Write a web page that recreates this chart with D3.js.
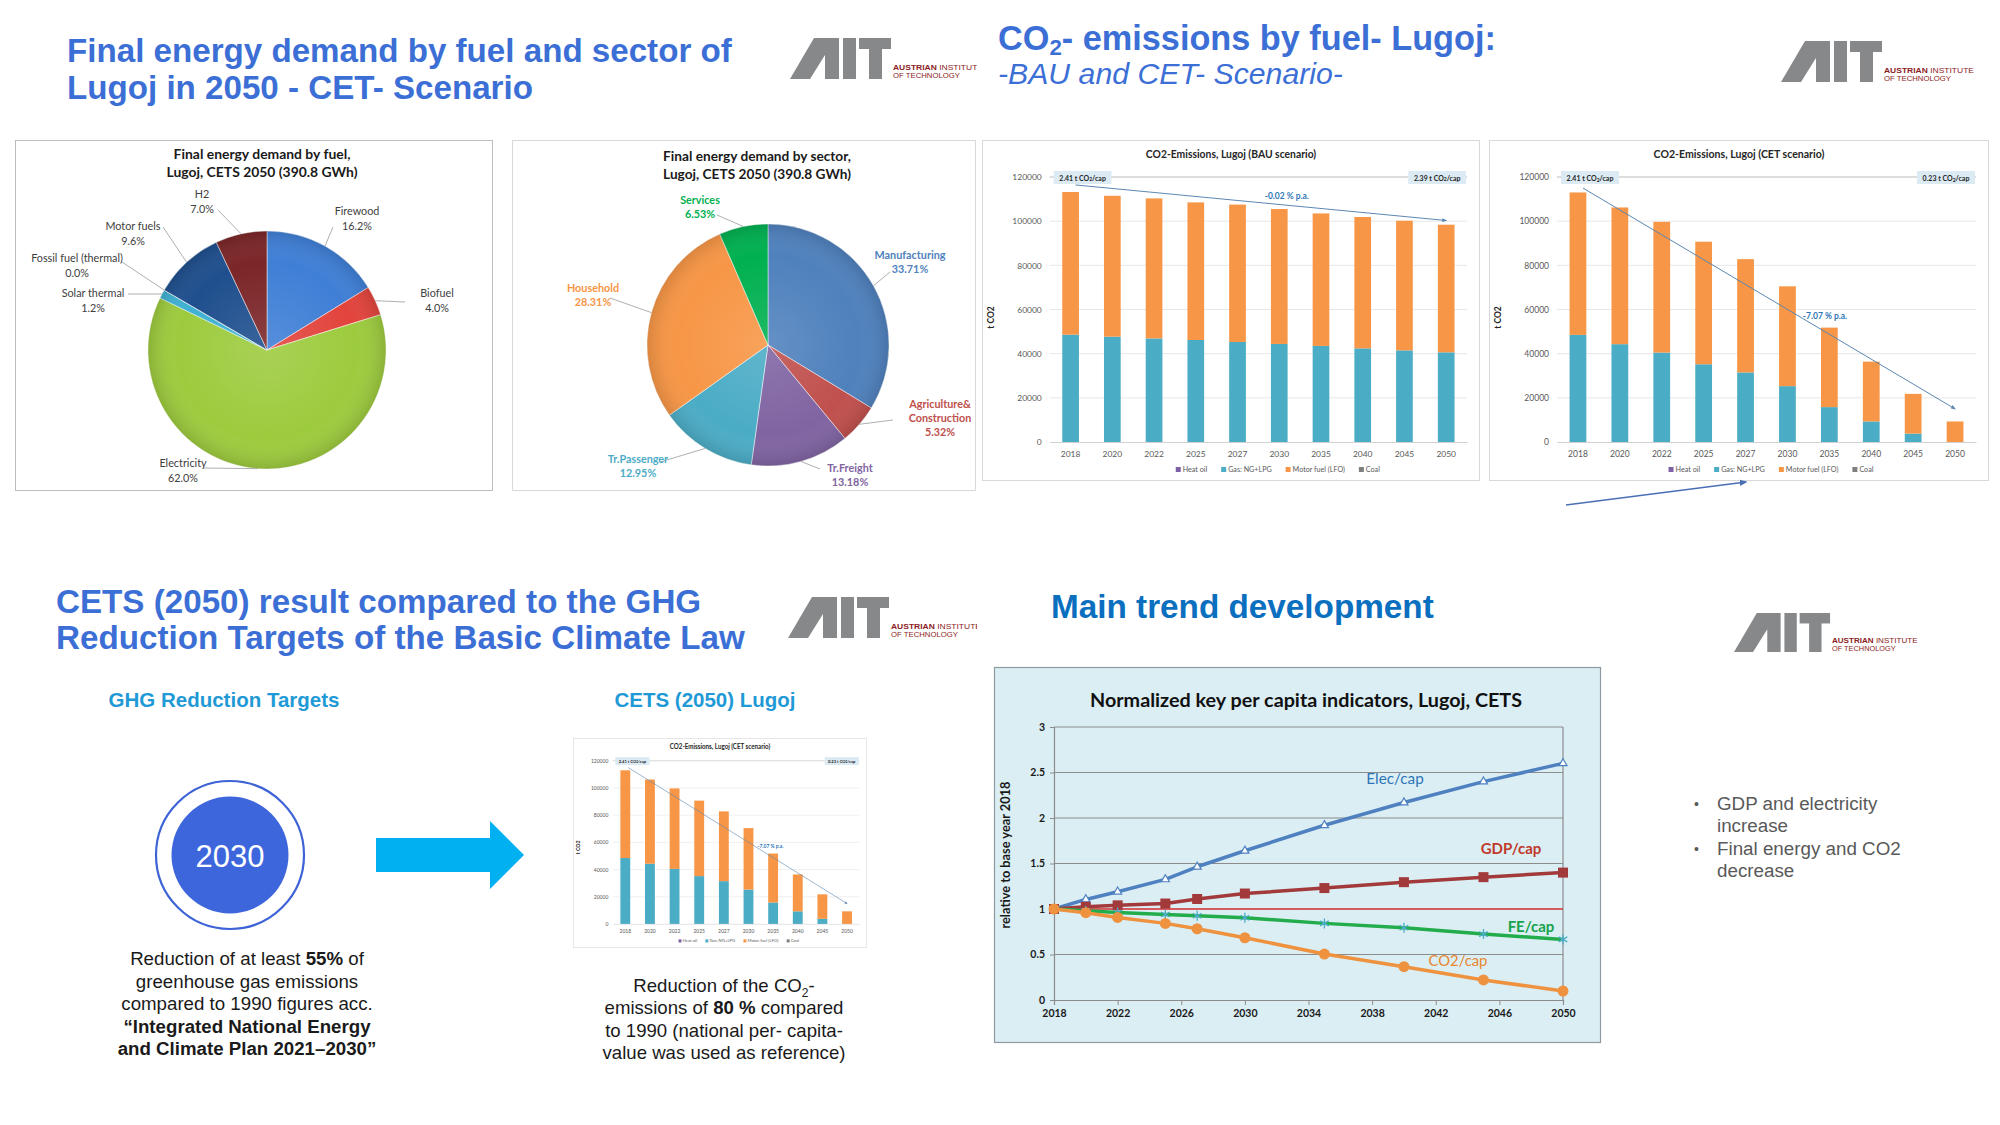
<!DOCTYPE html>
<html>
<head>
<meta charset="utf-8">
<script src="https://cdn.jsdelivr.net/npm/d3@7/dist/d3.min.js"></script>
<style>
html,body{margin:0;padding:0;background:#fff;}
svg{display:block;}
</style>
</head>
<body>
<svg id="chart" width="2000" height="1125"></svg>
<script>
// ================= DATA =================
const fuelNames = ["Firewood","Biofuel","Electricity","Solar thermal","Fossil fuel (thermal)","Motor fuels","H2"];
const fuelShares = [16.2, 4.0, 62.0, 1.2, 0.0, 9.6, 7.0];
const sectorNames = ["Manufacturing","Agriculture&\nConstruction","Tr.Freight","Tr.Passenger","Household","Services"];
const sectorShares = [33.71, 5.32, 13.18, 12.95, 28.31, 6.53];

const co2Years = ["2018","2020","2022","2025","2027","2030","2035","2040","2045","2050"];
const bauGas   = [48600,47700,46900,46200,45300,44400,43500,42400,41500,40600];
const bauMotor = [64600,63800,63400,62300,62200,61100,60000,59500,58700,57800];
const cetGas   = [48500,44300,40500,35200,31500,25300,15800,9300,3800,0];
const cetMotor = [64500,61900,59200,55500,51300,45200,36000,27100,18000,9300];
const co2Ticks = [0,20000,40000,60000,80000,100000,120000];
const co2Legend = ["Heat oil","Gas: NG+LPG","Motor fuel (LFO)","Coal"];
const bauPerCap = ["2.41","2.39"];
const cetPerCap = ["2.41","0.23"];
const bauRate = "-0.02 % p.a.";
const cetRate = "-7.07 % p.a.";
const bauTrend = [116400, 100300];
const cetTrend = [115000, 15000];

const indYears = [2018,2020,2022,2025,2027,2030,2035,2040,2045,2050];
const elecCap = [1.00,1.105,1.19,1.325,1.464,1.64,1.92,2.17,2.40,2.60];
const gdpCap  = [1.00,1.025,1.04,1.06,1.11,1.17,1.23,1.295,1.35,1.40];
const feCap   = [1.00,0.98,0.962,0.94,0.926,0.904,0.842,0.794,0.724,0.666];
const co2Cap  = [1.00,0.959,0.907,0.842,0.783,0.684,0.505,0.366,0.22,0.099];
const indXTicks = [2018,2022,2026,2030,2034,2038,2042,2046,2050];
const indYTicks = [0,0.5,1,1.5,2,2.5,3];

// ================= SETUP =================
const FA = "'Liberation Sans', Arial, Helvetica, sans-serif";
const FC = "Lato, 'Open Sans', 'Noto Sans', sans-serif";
const svg = d3.select("#chart");
const defs = svg.append("defs");
svg.append("rect").attr("width",2000).attr("height",1125).attr("fill","#fff");

function fitW(sel, w){
  const l = sel.node().getComputedTextLength();
  const fs = parseFloat(sel.attr("font-size"));
  sel.attr("font-size", fs*w/l);
  return fs*w/l;
}

function marker(id, color, size){
  defs.append("marker").attr("id",id).attr("viewBox","0 0 10 10").attr("refX",8).attr("refY",5)
    .attr("markerWidth",size).attr("markerHeight",size).attr("orient","auto")
    .append("path").attr("d","M0,1 L10,5 L0,9 Z").attr("fill",color);
}
marker("arrTrend","#5b87b3",5);
marker("arrBlue","#4a6fb5",6);

const rg = defs.append("radialGradient").attr("id","pieShade");
rg.append("stop").attr("offset","0%").attr("stop-color","#fff").attr("stop-opacity",0.12);
rg.append("stop").attr("offset","75%").attr("stop-color","#fff").attr("stop-opacity",0.0);
rg.append("stop").attr("offset","100%").attr("stop-color","#000").attr("stop-opacity",0.12);

// ================= LOGO =================
let clipN = 0;
function drawLogo(x, y, h, clipX){
  const s = h/41;
  const g = svg.append("g").attr("transform",`translate(${x},${y}) scale(${s})`);
  if (clipX){
    const id = "lc"+(clipN++);
    defs.append("clipPath").attr("id",id).append("rect").attr("x",-5).attr("y",-5).attr("width",(clipX-x)/s+5).attr("height",60);
    g.attr("clip-path",`url(#${id})`);
  }
  const gray = "#87888a";
  g.append("path").attr("d","M0,41 L24,0 L49,0 L49,41 L35,41 L35,17 L20,41 Z").attr("fill",gray);
  g.append("rect").attr("x",53).attr("y",0).attr("width",13).attr("height",41).attr("fill",gray);
  g.append("rect").attr("x",69).attr("y",0).attr("width",32).attr("height",11).attr("fill",gray);
  g.append("rect").attr("x",79).attr("y",0).attr("width",13).attr("height",41).attr("fill",gray);
  const t1 = g.append("text").attr("x",103).attr("y",31.5).attr("font-family",FA).attr("font-size",7.2).attr("fill","#8c1c24")
    .attr("textLength",90).attr("lengthAdjust","spacingAndGlyphs");
  t1.append("tspan").attr("font-weight","bold").text("AUSTRIAN");
  t1.append("tspan").text(" INSTITUTE");
  g.append("text").attr("x",103).attr("y",39.5).attr("font-family",FA).attr("font-size",7.2).attr("fill","#8c1c24")
    .attr("textLength",67).attr("lengthAdjust","spacingAndGlyphs").text("OF TECHNOLOGY");
}

// ================= TITLES =================
const blue1 = "#3c6fd6";
{
  const t1 = svg.append("text").attr("x",67).attr("y",62).attr("font-family",FA).attr("font-weight","bold")
    .attr("font-size",29).attr("fill",blue1).text("Final energy demand by fuel and sector of");
  const fs = fitW(t1, 665);
  svg.append("text").attr("x",67).attr("y",99).attr("font-family",FA).attr("font-weight","bold")
    .attr("font-size",fs).attr("fill",blue1).text("Lugoj in 2050 - CET- Scenario");
}
{
  const t1 = svg.append("text").attr("x",998).attr("y",50).attr("font-family",FA).attr("font-weight","bold")
    .attr("font-size",30).attr("fill",blue1);
  t1.append("tspan").text("CO");
  t1.append("tspan").attr("font-size","65%").attr("dy",5).text("2");
  t1.append("tspan").attr("dy",-5).text("- emissions by fuel- Lugoj:");
  fitW(t1, 498);
  const t2 = svg.append("text").attr("x",998).attr("y",84).attr("font-family",FA).attr("font-style","italic")
    .attr("font-size",27).attr("fill",blue1).text("-BAU and CET- Scenario-");
  fitW(t2, 345);
}
{
  const t1 = svg.append("text").attr("x",56).attr("y",613).attr("font-family",FA).attr("font-weight","bold")
    .attr("font-size",30).attr("fill",blue1).text("CETS (2050) result compared to the GHG");
  const t2 = svg.append("text").attr("x",56).attr("y",649).attr("font-family",FA).attr("font-weight","bold")
    .attr("font-size",30).attr("fill",blue1).text("Reduction Targets of the Basic Climate Law");
  const fs = fitW(t2, 689);
  t1.attr("font-size",fs);
}
{
  const t = svg.append("text").attr("x",1051).attr("y",618).attr("font-family",FA).attr("font-weight","bold")
    .attr("font-size",31).attr("fill","#0b6fc0").text("Main trend development");
  fitW(t, 383);
}

drawLogo(790, 38, 41, 977);
drawLogo(1781, 41, 41);
drawLogo(788, 597, 41, 977);
drawLogo(1734, 613, 39);

// ================= PIES =================
function drawPie(o){
  const g = svg.append("g");
  g.append("rect").attr("x",o.box[0]+0.5).attr("y",o.box[1]+0.5).attr("width",o.box[2]).attr("height",o.box[3])
    .attr("fill","#fff").attr("stroke",o.boxStroke).attr("stroke-width",1);
  const tl = o.title.map((s,k)=> g.append("text").attr("x",o.titlePos[0]).attr("y",o.titlePos[1]+k*18.5)
    .attr("text-anchor","middle").attr("font-family",FC).attr("font-weight","bold")
    .attr("font-size",12).attr("fill","#1a1a1a").attr("dominant-baseline","central").text(s));
  const fs = fitW(tl[0], o.titleW);
  tl[1].attr("font-size",fs);
  const arcs = d3.pie().sort(null).value(d=>d)(o.values);
  const arc = d3.arc().innerRadius(0).outerRadius(o.r);
  const pg = g.append("g").attr("transform",`translate(${o.cx},${o.cy})`);
  pg.selectAll("path.sl").data(arcs).join("path").attr("class","sl").attr("d",arc)
    .attr("fill",(d,i)=>o.colors[i]).attr("stroke","#ffffff").attr("stroke-width",0.8).attr("stroke-opacity",0.6);
  pg.append("circle").attr("r",o.r).attr("fill","url(#pieShade)");
  arcs.forEach((d,i)=>{
    const mid = (d.startAngle+d.endAngle)/2;
    const ex = Math.sin(mid)*o.r, ey = -Math.cos(mid)*o.r;
    const ls = o.leader[i];
    pg.append("line").attr("x1",ls[0]).attr("y1",ls[1]).attr("x2",ex).attr("y2",ey)
      .attr("stroke","#a6a6a6").attr("stroke-width",0.9);
    const lines = o.names[i].split("\n").concat([o.fmt(o.values[i])]);
    const t = pg.append("text").attr("text-anchor","middle").attr("font-family",FC)
      .attr("font-size",o.fs).attr("font-weight",o.weight).attr("fill",o.labelColors[i]).attr("dominant-baseline","central");
    lines.forEach((s,k)=> t.append("tspan").attr("x",o.labels[i][0]).attr("y",o.labels[i][1]+k*o.lh).text(s));
  });
}

drawPie({
  box:[15,140,477,350], boxStroke:"#bdbdbd",
  title:["Final energy demand by fuel,","Lugoj, CETS 2050 (390.8 GWh)"], titlePos:[262,153], titleW:177,
  cx:267, cy:350, r:119,
  values:fuelShares, names:fuelNames,
  colors:["#3f7fd6","#e2443c","#9dcb3e","#3fb1d2","#f79646","#1f4f8e","#7b2628"],
  labelColors:d3.range(7).map(()=>"#404040"), fs:10.8, weight:"normal", lh:14.5,
  fmt:v=>d3.format(".1f")(v)+"%",
  labels:[[90,-140],[170,-58],[-84,112],[-174,-58],[-190,-93],[-134,-125],[-65,-157]],
  leader:[[66,-123],[138,-48],[-64,118],[-139,-56],[-145,-88],[-104,-123],[-49,-140]]
});

drawPie({
  box:[512,140,463,350], boxStroke:"#d9d9d9",
  title:["Final energy demand by sector,","Lugoj, CETS 2050 (390.8 GWh)"], titlePos:[757,155], titleW:188,
  cx:768, cy:345, r:121,
  values:sectorShares, names:sectorNames,
  colors:["#4f81bd","#c0504d","#8064a2","#4bacc6","#f79646","#00b050"],
  labelColors:["#4f81bd","#c0504d","#8064a2","#4bacc6","#f79646","#00b050"], fs:10.8, weight:"bold", lh:14,
  fmt:v=>d3.format(".2f")(v)+"%",
  labels:[[142,-91],[172,58],[82,122],[-130,113],[-175,-58],[-68,-146]],
  leader:[[122,-73],[125,75],[52,124],[-108,117],[-158,-47],[-51,-130]]
});

// ================= CO2 BAR CHARTS =================
function co2Chart(x0, y0, sx, sy, cfg){
  const g = svg.append("g").attr("transform",`translate(${x0},${y0}) scale(${sx},${sy})`);
  g.append("rect").attr("x",0.5).attr("y",0.5).attr("width",499).attr("height",340).attr("fill","#fff").attr("stroke","#d9d9d9");
  const L=68, R=487, T=37, B=302;
  const x = d3.scaleBand().domain(co2Years).range([L,R]).paddingInner(0.6).paddingOuter(0.3);
  const y = d3.scaleLinear().domain([0,120000]).range([B,T]);
  g.append("g").selectAll("line").data(co2Ticks.filter(d=>d>0)).join("line")
    .attr("x1",L).attr("x2",R).attr("y1",d=>y(d)).attr("y2",d=>y(d))
    .attr("stroke",d=>d===120000?"#b3b3b3":"#e4e4e4").attr("stroke-width",0.9);
  const ya = g.append("g").attr("transform",`translate(${L},0)`)
    .call(d3.axisLeft(y).tickValues(co2Ticks).tickSize(0).tickPadding(8).tickFormat(d3.format("d")));
  ya.select(".domain").remove();
  ya.selectAll("text").attr("font-family",FC).attr("font-size",8.5).attr("fill","#595959");

  const rows = co2Years.map((yr,i)=>({year:yr, gas:cfg.gas[i], motor:cfg.motor[i]}));
  const series = d3.stack().keys(["gas","motor"])(rows);
  const col = {gas:"#4bacc6", motor:"#f79646"};
  g.append("g").selectAll("g").data(series).join("g").attr("fill",d=>col[d.key])
    .selectAll("rect").data(d=>d).join("rect")
    .attr("x",d=>x(d.data.year)).attr("width",x.bandwidth())
    .attr("y",d=>y(d[1])).attr("height",d=>Math.max(0,y(d[0])-y(d[1])));

  const xa = g.append("g").attr("transform",`translate(0,${B})`).call(d3.axisBottom(x).tickSize(0).tickPadding(9));
  xa.select(".domain").attr("stroke","#d0d0d0");
  xa.selectAll("text").attr("font-family",FC).attr("font-size",8.5).attr("fill","#595959");

  const tt = g.append("text").attr("x",250).attr("y",14).attr("text-anchor","middle").attr("dominant-baseline","central")
    .attr("font-family",FC).attr("font-weight","bold").attr("font-size",10).attr("fill","#262626").text(cfg.title);
  fitW(tt, 171);
  g.append("text").attr("transform",`translate(12,${(T+B)/2+8}) rotate(-90)`).attr("text-anchor","middle")
    .attr("font-family",FC).attr("font-weight","bold").attr("font-size",8.5).attr("fill","#262626").text("t CO2");

  const legCol = ["#7f5fa6","#4bacc6","#f79646","#7f7f7f"];
  const lg = g.append("g");
  let cx = 0;
  co2Legend.forEach((s,i)=>{
    lg.append("rect").attr("x",cx).attr("y",-3).attr("width",5).attr("height",5).attr("fill",legCol[i]);
    const t = lg.append("text").attr("x",cx+7).attr("y",2).attr("font-family",FC).attr("font-size",7.2).attr("fill","#595959").text(s);
    cx += 7 + t.node().getComputedTextLength() + 14;
  });
  cx -= 14;
  lg.attr("transform",`translate(${cfg.legendCx - cx/2},330)`);

  const x1 = x(co2Years[0]) + x.bandwidth()/2 + 5;
  const x2 = x(co2Years[co2Years.length-1]) + x.bandwidth()/2;
  g.append("line").attr("x1",x1).attr("y1",y(cfg.trend[0])).attr("x2",x2).attr("y2",y(cfg.trend[1]))
    .attr("stroke","#5b87b3").attr("stroke-width",1).attr("marker-end","url(#arrTrend)");
  g.append("text").attr("x",cfg.ratePos[0]).attr("y",cfg.ratePos[1]).attr("text-anchor","middle").attr("dominant-baseline","central")
    .attr("font-family",FC).attr("font-weight","bold").attr("font-size",8.5).attr("fill","#2e75b6").text(cfg.rate);

  [[L+4, cfg.perCap[0]],[R-59, cfg.perCap[1]]].forEach(([bx,v])=>{
    g.append("rect").attr("x",bx).attr("y",T-6).attr("width",58).attr("height",13).attr("fill","#dbeaf3");
    const t = g.append("text").attr("x",bx+29).attr("y",T+0.5).attr("text-anchor","middle").attr("dominant-baseline","central")
      .attr("font-family",FC).attr("font-weight","bold").attr("font-size",7).attr("fill","#262626");
    t.append("tspan").text(v+" t CO");
    t.append("tspan").attr("font-size",5).attr("dy",2).text("2");
    t.append("tspan").attr("dy",-2).text("/cap");
  });
}

co2Chart(982, 140, 498/500, 1, {
  title:"CO2-Emissions, Lugoj (BAU scenario)", gas:bauGas, motor:bauMotor,
  perCap:bauPerCap, rate:bauRate, trend:bauTrend, ratePos:[306,56], legendCx:297
});
co2Chart(1489, 140, 1, 1, {
  title:"CO2-Emissions, Lugoj (CET scenario)", gas:cetGas, motor:cetMotor,
  perCap:cetPerCap, rate:cetRate, trend:cetTrend, ratePos:[336,176], legendCx:282
});
co2Chart(573, 738, 294/500, 210/341, {
  title:"CO2-Emissions, Lugoj (CET scenario)", gas:cetGas, motor:cetMotor,
  perCap:cetPerCap, rate:cetRate, trend:cetTrend, ratePos:[336,176], legendCx:282
});

svg.append("line").attr("x1",1566).attr("y1",505).attr("x2",1746).attr("y2",482)
  .attr("stroke","#4a6fb5").attr("stroke-width",1.3).attr("marker-end","url(#arrBlue)");

// ================= BOTTOM-LEFT =================
svg.append("text").attr("x",224).attr("y",707).attr("text-anchor","middle").attr("font-family",FA).attr("font-weight","bold")
  .attr("font-size",20.5).attr("fill","#1f9ad6").text("GHG Reduction Targets");
svg.append("text").attr("x",705).attr("y",707).attr("text-anchor","middle").attr("font-family",FA).attr("font-weight","bold")
  .attr("font-size",20.5).attr("fill","#1f9ad6").text("CETS (2050) Lugoj");

svg.append("circle").attr("cx",230).attr("cy",855).attr("r",74).attr("fill","#fff").attr("stroke","#3d63d6").attr("stroke-width",2.2);
svg.append("circle").attr("cx",230).attr("cy",855).attr("r",58.5).attr("fill","#3d66dc");
svg.append("text").attr("x",230).attr("y",856).attr("text-anchor","middle").attr("dominant-baseline","central")
  .attr("font-family",FA).attr("font-size",31).attr("fill","#fff").text("2030");

svg.append("polygon").attr("points","376,838 490,838 490,821 524,855 490,889 490,872 376,872").attr("fill","#00b0f0");

function richLines(cx, y0, lh, fs, lines){
  lines.forEach((parts,k)=>{
    const t = svg.append("text").attr("x",cx).attr("y",y0+k*lh).attr("text-anchor","middle")
      .attr("font-family",FA).attr("font-size",fs).attr("fill","#1a1a1a");
    parts.forEach(p=>{
      const ts = t.append("tspan").text(p.t);
      if (p.b) ts.attr("font-weight","bold");
      if (p.sub) ts.attr("font-size",fs*0.65).attr("dy",fs*0.25);
      if (p.up) ts.attr("dy",-fs*0.25);
    });
  });
}
richLines(247, 965, 22.5, 18.7, [
  [{t:"Reduction of at least "},{t:"55%",b:true},{t:" of"}],
  [{t:"greenhouse gas emissions"}],
  [{t:"compared to 1990 figures acc."}],
  [{t:"\u201CIntegrated National Energy",b:true}],
  [{t:"and Climate Plan 2021\u20132030\u201D",b:true}]
]);
richLines(724, 992, 22.3, 18.6, [
  [{t:"Reduction of the CO"},{t:"2",sub:true},{t:"-",up:true}],
  [{t:"emissions of "},{t:"80 %",b:true},{t:" compared"}],
  [{t:"to 1990 (national per- capita-"}],
  [{t:"value was used as reference)"}]
]);

// ================= LINE CHART =================
{
  const g = svg.append("g");
  g.append("rect").attr("x",994.5).attr("y",667.5).attr("width",606).attr("height",375).attr("fill","#dbeef4").attr("stroke","#8f9aa0").attr("stroke-width",1.2);
  const tt = g.append("text").attr("x",1306).attr("y",699).attr("text-anchor","middle").attr("dominant-baseline","central")
    .attr("font-family",FC).attr("font-weight","bold").attr("font-size",18).attr("fill","#111").text("Normalized key per capita indicators, Lugoj, CETS");
  fitW(tt, 432);
  const lx = d3.scaleLinear().domain([2018,2050]).range([1054,1563]);
  const ly = d3.scaleLinear().domain([0,3]).range([1000,727]);
  g.append("g").selectAll("line").data(indYTicks.filter(d=>d>0)).join("line")
    .attr("x1",lx(2018)).attr("x2",lx(2050)).attr("y1",d=>ly(d)).attr("y2",d=>ly(d))
    .attr("stroke","#8c8c8c").attr("stroke-width",1.2);
  g.append("line").attr("x1",lx(2050)).attr("x2",lx(2050)).attr("y1",ly(3)).attr("y2",ly(0)).attr("stroke","#8c8c8c").attr("stroke-width",1.2);

  const xa = g.append("g").attr("transform",`translate(0,${ly(0)})`)
    .call(d3.axisBottom(lx).tickValues(indXTicks).tickSize(5).tickPadding(5).tickFormat(d3.format("d")));
  xa.select(".domain").attr("stroke","#8c8c8c").attr("stroke-width",1.2);
  xa.selectAll("line").attr("stroke","#8c8c8c");
  xa.selectAll("text").attr("font-family",FC).attr("font-weight","bold").attr("font-size",10.5).attr("fill","#1a1a1a");
  const ya = g.append("g").attr("transform",`translate(${lx(2018)},0)`)
    .call(d3.axisLeft(ly).tickValues(indYTicks).tickSize(4).tickPadding(5).tickFormat(d=>String(d)));
  ya.select(".domain").attr("stroke","#8c8c8c").attr("stroke-width",1.2);
  ya.selectAll("line").attr("stroke","#8c8c8c");
  ya.selectAll("text").attr("font-family",FC).attr("font-weight","bold").attr("font-size",10.5).attr("fill","#1a1a1a");

  g.append("text").attr("transform","translate(1010,855) rotate(-90)").attr("text-anchor","middle")
    .attr("font-family",FC).attr("font-weight","bold").attr("font-size",12.8).attr("fill","#1a1a1a").text("relative to base year 2018");

  g.append("line").attr("x1",lx(2018)).attr("x2",lx(2050)).attr("y1",ly(1)).attr("y2",ly(1)).attr("stroke","#e23b3b").attr("stroke-width",1.5);

  const line = d3.line().x((d,i)=>lx(indYears[i])).y(d=>ly(d));
  const S = [
    {v:elecCap, c:"#4f81c0"},
    {v:gdpCap,  c:"#a23a3b"},
    {v:feCap,   c:"#22ac4c"},
    {v:co2Cap,  c:"#ee923f"}
  ];
  S.forEach(s=> g.append("path").attr("d",line(s.v)).attr("fill","none").attr("stroke",s.c).attr("stroke-width",3.5).attr("stroke-linejoin","round"));

  g.append("g").selectAll("path").data(elecCap).join("path")
    .attr("transform",(d,i)=>`translate(${lx(indYears[i])},${ly(d)})`)
    .attr("d",d3.symbol(d3.symbolTriangle,28)).attr("fill","#fff").attr("stroke","#4f81c0").attr("stroke-width",1.2);
  g.append("g").selectAll("rect").data(gdpCap).join("rect")
    .attr("x",(d,i)=>lx(indYears[i])-5).attr("y",d=>ly(d)-5).attr("width",10).attr("height",10).attr("fill","#a23a3b");
  g.append("g").selectAll("path").data(feCap).join("path")
    .attr("transform",(d,i)=>`translate(${lx(indYears[i])},${ly(d)})`)
    .attr("d",d3.symbol(d3.symbolAsterisk,70)).attr("fill","none").attr("stroke","#4bacc6").attr("stroke-width",1.3);
  g.append("g").selectAll("circle").data(co2Cap).join("circle")
    .attr("cx",(d,i)=>lx(indYears[i])).attr("cy",d=>ly(d)).attr("r",5.5).attr("fill","#ee923f");

  const lab = (t,x,y,c,w,fs)=> g.append("text").attr("x",x).attr("y",y).attr("text-anchor","middle").attr("dominant-baseline","central")
    .attr("font-family",FC).attr("font-size",fs).attr("font-weight",w).attr("fill",c).text(t);
  lab("Elec/cap",1395,778,"#2e75b6","normal",15.3);
  lab("GDP/cap",1511,848,"#c0392b","bold",15);
  lab("FE/cap",1531,926,"#16a34a","bold",15);
  lab("CO2/cap",1458,960,"#e8862f","normal",14.8);
}

// ================= BULLETS =================
[["GDP and electricity",810],["increase",832],["Final energy and CO2",855],["decrease",877]].forEach(([t,y],i)=>{
  svg.append("text").attr("x",1717).attr("y",y).attr("font-family",FA).attr("font-size",18.8).attr("fill","#595959").text(t);
  if (i%2===0) svg.append("text").attr("x",1694).attr("y",y-1).attr("font-family",FA).attr("font-size",14).attr("fill","#595959").text("\u2022");
});
</script>
</body>
</html>
